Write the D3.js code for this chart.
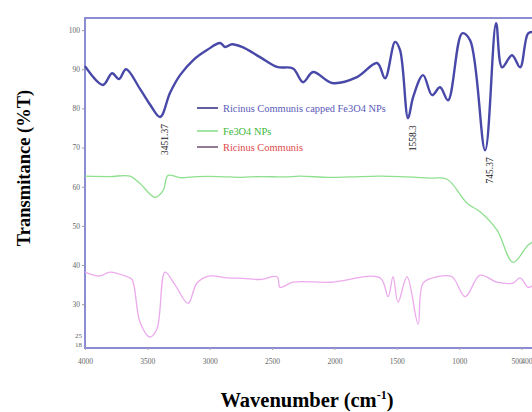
<!DOCTYPE html>
<html>
<head>
<meta charset="utf-8">
<script src="https://cdn.jsdelivr.net/npm/d3@7"></script>
<style>
  body { margin: 0; background: #fff; }
  svg { display: block; }
</style>
</head>
<body>
<div id="chart"></div>
<script>
// SVG size
var svgWidth = 532;
var svgHeight = 412;

// plot box edges (right edge runs off the picture)
var plot = { left: 85, right: 534, top: 18, bottom: 348 };

// ---- data: [wavenumber cm-1, %T] ----
var cappedNPs = [
  [4000, 90.8], [3856, 86], [3783, 89], [3727, 87.5], [3671, 90], [3559, 85],
  [3479, 81], [3398, 77.8], [3318, 84], [3238, 88.5], [3134, 92.3], [3022, 94.9],
  [2917, 96.7], [2877, 95.7], [2821, 96.4], [2741, 95.7], [2597, 93.1], [2460, 90.6],
  [2332, 90.2], [2252, 86.7], [2171, 89.3], [2019, 86.5], [1819, 88], [1658, 91.6],
  [1594, 87.7], [1514, 97], [1474, 94.9], [1410, 77.5], [1369, 82.9], [1289, 88.5],
  [1217, 83.4], [1153, 85.4], [1089, 82.1], [976, 99.2], [912, 97.4], [792, 69.3],
  [704, 101.8], [656, 90.5], [576, 93.6], [511, 90.5], [447, 99.2], [400, 99.5]
];

var bareNPs = [
  [4000, 62.7], [3800, 62.6], [3639, 62.7], [3559, 60.8], [3439, 57.3], [3374, 59],
  [3334, 62.9], [3238, 62.3], [3100, 62.6], [2917, 62.6], [2750, 62.4], [2597, 62.6],
  [2400, 62.5], [2276, 62.7], [2050, 62.4], [1875, 62.5], [1650, 62.7], [1474, 62.6],
  [1233, 62.2], [1097, 61.9], [936, 55.8], [832, 53.6], [696, 48.9], [568, 40.7],
  [447, 45.1], [400, 46]
];

var plantExtract = [
  [4000, 38.2], [3880, 37.2], [3800, 38.2], [3663, 37], [3623, 36.3], [3559, 25.4],
  [3479, 21.6], [3423, 23.7], [3358, 38.2], [3278, 34.9], [3174, 30.2], [3102, 35.4],
  [2998, 37.2], [2861, 36.7], [2733, 36.6], [2597, 36.3], [2460, 37], [2436, 34.3],
  [2332, 35.6], [2035, 35.6], [1634, 36.7], [1570, 31.9], [1530, 37], [1490, 30.5],
  [1418, 37], [1329, 24.9], [1289, 35.4], [1177, 37], [1057, 37], [952, 31.9],
  [832, 37.4], [696, 35.6], [568, 35.4], [511, 36.7], [447, 34.3], [400, 35]
];

// legend entries and peak annotations
var legendNames = ["Ricinus Communis capped Fe3O4 NPs", "Fe3O4 NPs", "Ricinus Communis"];
var peakLabels = ["3451.37", "1558.3", "745.37"];
var peakWaves = [3398, 1410, 792];
var peakValues = [77.8, 77.5, 69.3];

// axis ticks
var xTicks = [4000, 3500, 3000, 2500, 2000, 1500, 1000, 500, 400];
var yTicks = [30, 40, 50, 60, 70, 80, 90, 100];
var yExtraTicks = [21.8, 19.6];
var yExtraLabels = ["25", "18"];

var svg = d3.select("#chart")
  .append("svg")
  .attr("width", svgWidth)
  .attr("height", svgHeight);

// scales
var xScale = d3.scaleLinear()
  .domain([4000, 400])
  .range([plot.left, plot.right]);

var yScale = d3.scaleLinear()
  .domain([18.8, 103.1])
  .range([plot.bottom, plot.top]);

var axisColor = "#8c8cd2";

// plot frame: left, top, bottom
svg.append("path")
  .attr("d", `M${plot.right},${plot.top}H${plot.left}V${plot.bottom}H${plot.right}`)
  .attr("fill", "none")
  .attr("stroke", axisColor)
  .attr("stroke-width", 2);

// y axis ticks and labels
var yAxis = d3.axisLeft(yScale)
  .tickValues(yTicks)
  .tickSize(3)
  .tickFormat(d3.format("d"));

var yAxisGroup = svg.append("g")
  .attr("transform", `translate(${plot.left},0)`)
  .call(yAxis);

yAxisGroup.select(".domain").remove();
yAxisGroup.selectAll("line").attr("stroke", "#999");
yAxisGroup.selectAll("text")
  .attr("font-family", "Liberation Serif, serif")
  .attr("font-size", 7.5)
  .attr("fill", "#666")
  .attr("dx", 1);

svg.selectAll(".yextra")
  .data(yExtraTicks)
  .enter()
  .append("text")
  .attr("x", plot.left - 3)
  .attr("y", d => yScale(d) + 2)
  .attr("text-anchor", "end")
  .attr("font-family", "Liberation Serif, serif")
  .attr("font-size", 7)
  .attr("fill", "#666")
  .text((d, i) => yExtraLabels[i]);

// x axis ticks and labels
var xAxis = d3.axisBottom(xScale)
  .tickValues(xTicks)
  .tickSize(2)
  .tickFormat(d3.format("d"));

var xAxisGroup = svg.append("g")
  .attr("transform", `translate(0,${plot.bottom})`)
  .call(xAxis);

xAxisGroup.select(".domain").remove();
xAxisGroup.selectAll("line").attr("stroke", "#aaa");
xAxisGroup.selectAll("text")
  .attr("font-family", "Liberation Serif, serif")
  .attr("font-size", 7.5)
  .attr("fill", "#666")
  .attr("dy", "1.4em");

// the last two labels crowd the cut edge
xAxisGroup.selectAll("text")
  .filter(d => d === 500)
  .attr("dx", -5);

xAxisGroup.selectAll("text")
  .filter(d => d === 400)
  .attr("text-anchor", "end")
  .attr("dx", -2);

// spectra
var line = d3.line()
  .x(d => xScale(d[0]))
  .y(d => yScale(d[1]))
  .curve(d3.curveCatmullRom.alpha(0.5));

svg.append("path")
  .datum(plantExtract)
  .attr("d", line)
  .attr("fill", "none")
  .attr("stroke", "#ecaaec")
  .attr("stroke-width", 1.3);

svg.append("path")
  .datum(bareNPs)
  .attr("d", line)
  .attr("fill", "none")
  .attr("stroke", "#8ee08e")
  .attr("stroke-width", 1.3);

svg.append("path")
  .datum(cappedNPs)
  .attr("d", line)
  .attr("fill", "none")
  .attr("stroke", "#4848a8")
  .attr("stroke-width", 2.4);

// peak labels, rotated, hanging under each minimum
svg.selectAll(".peak")
  .data(peakLabels)
  .enter()
  .append("text")
  .attr("transform", (d, i) => `translate(${xScale(peakWaves[i]) + 8},${yScale(peakValues[i]) + 7}) rotate(-90)`)
  .attr("text-anchor", "end")
  .attr("font-family", "Liberation Serif, serif")
  .attr("font-size", 9.5)
  .attr("fill", "#222")
  .text(d => d);

// legend
var legendLines = ["#3a3a8a", "#8ee08e", "#7a5a7a"];
var legendText = ["#5a5ab8", "#3cb83c", "#e04848"];
var legendY = [108, 131, 147];

var legend = svg.append("g");

legend.selectAll("line")
  .data(legendNames)
  .enter()
  .append("line")
  .attr("x1", 197)
  .attr("x2", 218)
  .attr("y1", (d, i) => legendY[i])
  .attr("y2", (d, i) => legendY[i])
  .attr("stroke", (d, i) => legendLines[i])
  .attr("stroke-width", 1.6);

legend.selectAll("text")
  .data(legendNames)
  .enter()
  .append("text")
  .attr("x", 223)
  .attr("y", (d, i) => legendY[i] + 3.5)
  .attr("font-family", "Liberation Serif, serif")
  .attr("font-size", 10.4)
  .attr("fill", (d, i) => legendText[i])
  .text(d => d);

// axis titles
svg.append("text")
  .attr("transform", "translate(30,168) rotate(-90)")
  .attr("text-anchor", "middle")
  .attr("font-family", "Liberation Serif, serif")
  .attr("font-weight", "bold")
  .attr("font-size", 18.5)
  .text("Transmitance (%T)");

var xTitle = svg.append("text")
  .attr("x", 307)
  .attr("y", 407)
  .attr("text-anchor", "middle")
  .attr("font-family", "Liberation Serif, serif")
  .attr("font-weight", "bold")
  .attr("font-size", 20.5);

xTitle.append("tspan").text("Wavenumber (cm");
xTitle.append("tspan").attr("font-size", 12).attr("dy", -8).text("-1");
xTitle.append("tspan").attr("dy", 8).text(")");
</script>
</body>
</html>
